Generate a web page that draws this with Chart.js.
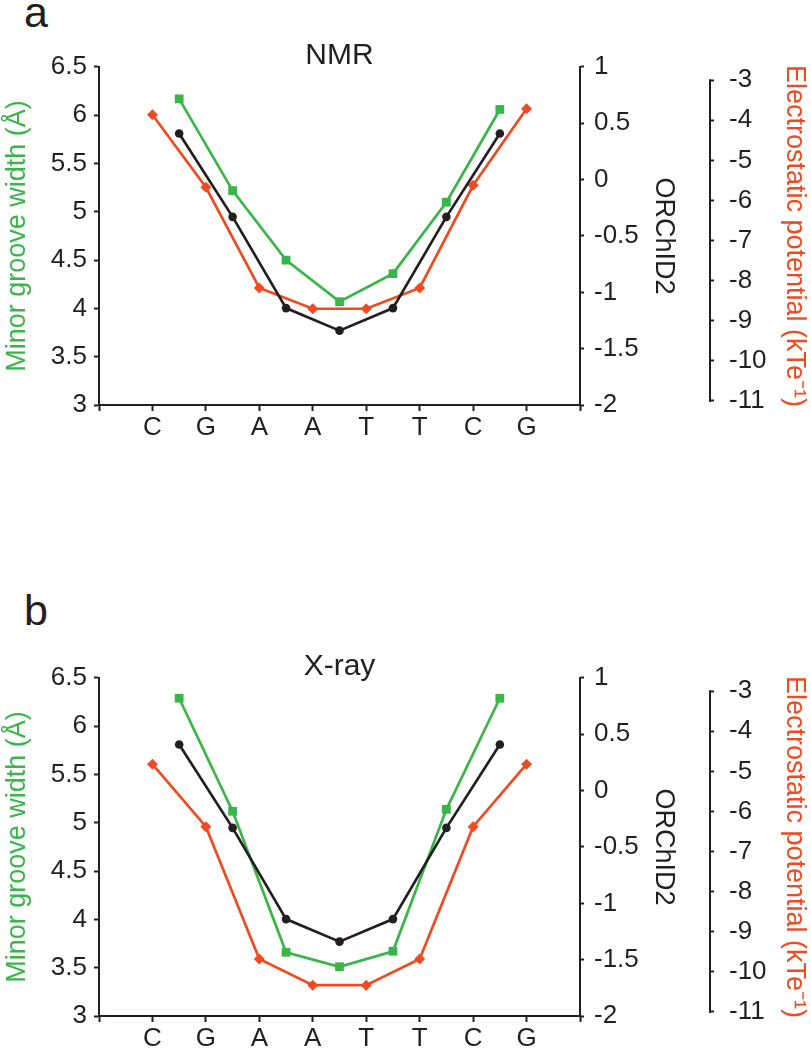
<!DOCTYPE html>
<html>
<head>
<meta charset="utf-8">
<script src="https://cdn.jsdelivr.net/npm/chart.js@4.4.1/dist/chart.umd.min.js"></script>
<style>
  body { margin: 0; background: #fff; width: 811px; height: 1050px; position: relative; overflow: hidden; font-family: "Liberation Sans", Arial, sans-serif; }
  .panel { position: absolute; left: 0; }
  .tag { position: absolute; left: 24px; font-size: 43px; line-height: 43px; color: #231f20; }
</style>
</head>
<body>
<div class="tag" style="top:-9px">a</div>
<div class="tag" style="top:589px">b</div>
<canvas id="nmr" class="panel" style="top:0" width="811" height="470"></canvas>
<canvas id="xray" class="panel" style="top:611px" width="811" height="439"></canvas>
<script>
const bases = ['C', 'G', 'A', 'A', 'T', 'T', 'C', 'G'];
// ORChID2 is the same in both panels (one value per base step)
const orchid2 = [0.41, -0.33, -1.14, -1.34, -1.14, -0.33, 0.41];
const nmrGroove = [6.17, 5.22, 4.50, 4.07, 4.36, 5.10, 6.06];
const nmrElec = [-3.86, -5.67, -8.18, -8.70, -8.70, -8.18, -5.62, -3.71];
const xrayGroove = [6.29, 5.12, 3.66, 3.51, 3.67, 5.14, 6.29];
const xrayElec = [-4.82, -6.38, -9.68, -10.33, -10.33, -9.68, -6.38, -4.82];

const GREEN = '#3ab54a';
const RED = '#ef4b23';
const INK = '#231f20';
const FONT = '"Liberation Sans", Arial, sans-serif';

Chart.defaults.font.family = FONT;
Chart.defaults.color = INK;

// groove width / ORChID2 sit between two bases, potentials sit on a base
const steps = arr => arr.map((v, i) => ({ x: i + 0.5, y: v }));
const onBases = arr => arr.map((v, i) => ({ x: i, y: v }));

// short potential axis line (-3 to -11) and the ORChID2 title,
// which sits just left of the potential axis
const axisExtras = {
  id: 'axisExtras',
  afterDraw(chart) {
    const ep = chart.scales.ep;
    const ctx = chart.ctx;
    ctx.save();
    ctx.strokeStyle = INK;
    ctx.lineWidth = 2;
    ctx.beginPath();
    ctx.moveTo(ep.left, ep.getPixelForValue(-3) - 1);
    ctx.lineTo(ep.left, ep.getPixelForValue(-11) + 1);
    ctx.stroke();

    const area = chart.chartArea;
    ctx.translate(ep.left - 47, (area.top + area.bottom) / 2);
    ctx.rotate(Math.PI / 2);
    ctx.font = '27px ' + FONT;
    ctx.fillStyle = INK;
    ctx.textAlign = 'center';
    ctx.textBaseline = 'middle';
    ctx.fillText('ORChID2', 0, 0);
    ctx.restore();
  }
};

const tickFont = { size: 26 };
const titleFont = { size: 27 };
const axisGrid = len => ({ drawOnChartArea: false, tickLength: len, tickWidth: 2, color: INK });
const axisBorder = { color: INK, width: 2 };
const pad = n => ({ top: n, bottom: n });

function drawPanel(id, title, groove, elec, xHeight) {
  new Chart(document.getElementById(id), {
    type: 'line',
    data: {
      datasets: [
        { label: 'ORChID2', data: steps(orchid2), yAxisID: 'orchid',
          borderColor: INK, backgroundColor: INK, pointStyle: 'circle', pointRadius: 4.3 },
        { label: 'Minor groove width', data: steps(groove), yAxisID: 'y',
          borderColor: GREEN, backgroundColor: GREEN, pointStyle: 'rect', pointRadius: 6.2 },
        { label: 'Electrostatic potential', data: onBases(elec), yAxisID: 'ep',
          borderColor: RED, backgroundColor: RED, pointStyle: 'rectRot', pointRadius: 5.5 }
      ]
    },
    options: {
      responsive: false,
      animation: false,
      devicePixelRatio: 1,
      layout: { padding: 0 },
      elements: {
        line: { borderWidth: 2.7, tension: 0 },
        point: { borderWidth: 0, hoverRadius: 0 }
      },
      plugins: {
        legend: { display: false },
        tooltip: { enabled: false },
        title: {
          display: true, text: title, fullSize: false, color: INK,
          font: { size: 30, weight: 'normal', lineHeight: 0.733 },
          padding: { top: 45, bottom: 0 }
        }
      },
      scales: {
        x: {
          type: 'linear', position: 'bottom', min: -1, max: 8,
          afterFit: s => { s.height = xHeight; },
          ticks: { stepSize: 1, autoSkip: false, maxRotation: 0, padding: 1, font: tickFont,
                   callback: v => bases[v] ?? '' },
          grid: axisGrid(6),
          border: axisBorder
        },
        y: {
          position: 'left', min: 3, max: 6.5,
          afterFit: s => { s.width = 99; },
          ticks: { stepSize: 0.5, padding: 7, font: tickFont, callback: v => String(v) },
          grid: axisGrid(5),
          border: axisBorder,
          title: { display: true, text: 'Minor groove width (Å)', color: GREEN, font: titleFont, padding: pad(1) }
        },
        orchid: {
          position: 'right', min: -2, max: 1, weight: 0,
          afterFit: s => { s.width = 130; },
          ticks: { stepSize: 0.5, padding: 10, font: tickFont, callback: v => String(v) },
          grid: axisGrid(4),
          border: axisBorder
        },
        ep: {
          position: 'right', min: -11.1, max: -2.67, weight: 1,
          afterFit: s => { s.width = 101; },
          ticks: { stepSize: 1, includeBounds: false, padding: 15, font: tickFont, callback: v => String(v) },
          grid: axisGrid(4),
          border: { display: false },
          title: { display: true, text: 'Electrostatic potential (kTe⁻¹)', color: RED, font: titleFont, padding: pad(0) }
        }
      }
    },
    plugins: [axisExtras]
  });
}

drawPanel('nmr', 'NMR', nmrGroove, nmrElec, 65);
drawPanel('xray', 'X-ray', xrayGroove, xrayElec, 34);
</script>
</body>
</html>
